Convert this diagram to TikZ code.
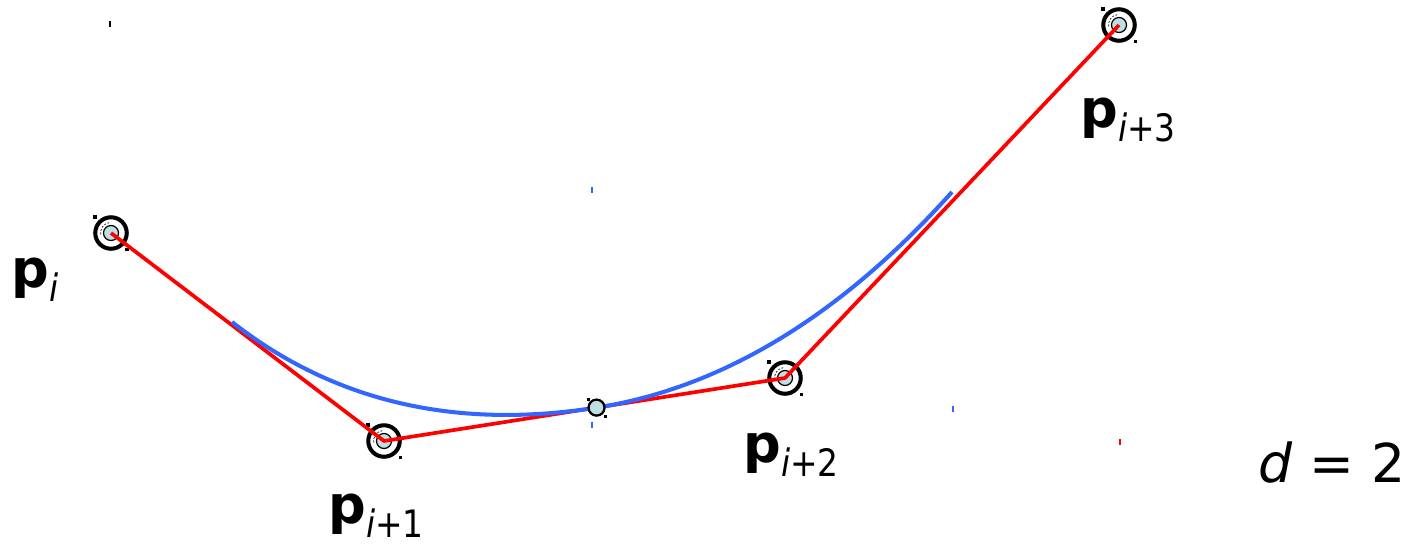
\documentclass[tikz,border=0pt]{standalone}
\usepackage{fontspec}
\usepackage{graphicx}
\setmainfont{DejaVu Sans}
\usetikzlibrary{calc}
\definecolor{ptfill}{RGB}{188,224,228}
\definecolor{curveblue}{RGB}{51,102,255}
\tikzset{
  ring/.style={circle,draw=black,line width=2.3pt,minimum size=0.63cm,inner sep=0pt},
  midpt/.style={circle,draw=black,fill=ptfill,line width=1.3pt,minimum size=0.32cm,inner sep=0pt},
  poly/.style={red,line width=2.1pt,line join=round},
  curve/.style={curveblue,line width=2.3pt},
  lab/.style={anchor=base west,inner sep=0pt,font=\fontsize{30}{36}\selectfont},
  tick/.style={line width=0.6pt}
}
\newcommand\plab[1]{\textbf{p}\raisebox{-8.5pt}{\scalebox{0.87}[1]{\fontsize{21.5}{26}\selectfont #1}}}
\newcommand\cpmark[2]{%
  \node[ring] (#1) at (#2) {};
  \fill[ptfill,draw=black,line width=0.7pt] (#1.center) circle[radius=0.15cm];
  \draw[black,line width=0.4pt,dash pattern=on 1pt off 1pt] (#1.center) ++(100:0.21cm) arc[start angle=100,end angle=190,radius=0.21cm];
  \fill (#1.center) ++(-0.36cm,0.36cm) rectangle ++(0.07cm,-0.07cm);
  \fill (#1.center) ++(0.29cm,-0.29cm) rectangle ++(0.07cm,-0.07cm);
}
\begin{document}
\begin{tikzpicture}[x=0.02cm,y=-0.02cm]
\useasboundingbox (0,0) rectangle (1416,545);
% control points
\cpmark{p0}{111,233}
\cpmark{p1}{384,441}
\cpmark{p2}{785,378}
\cpmark{p3}{1119,25}
% control polygon
\draw[poly] (p0.center) -- (p1.center) -- (p2.center) -- (p3.center);
% curve
\coordinate (A) at (232,322);
\coordinate (M) at ($(p1.center)!0.53!(p2.center)$);
\coordinate (B) at (952,192);
\draw[curve] (A) .. controls ($(A)!2/3!(p1.center)$) and ($(M)!2/3!(p1.center)$) .. (M)
  .. controls ($(M)!2/3!(p2.center)$) and ($(B)!2/3!(p2.center)$) .. (B);
\node[midpt] (m) at (M) {};
\fill (m.center) ++(-0.2cm,0.2cm) rectangle ++(0.06cm,-0.06cm);
\fill (m.center) ++(0.15cm,-0.15cm) rectangle ++(0.06cm,-0.06cm);
% labels
\node[lab] (l0) at (11,287) {\plab{\textit{i}}};
\node[lab] (l1) at (328,523) {\plab{\textit{i}+1}};
\node[lab] (l2) at (743,462) {\plab{\textit{i}+2}};
\node[lab] (l3) at (1080,127) {\plab{\textit{i}+3}};
\node[lab,font=\fontsize{30.5}{36}\selectfont] (deg) at (1258,482) {\textit{d} = 2};
% tiny marks
\draw[tick] (110,21) -- (110,27);
\draw[tick,curveblue] (592,187) -- (592,193);
\draw[tick,curveblue] (592,422) -- (592,428);
\draw[tick,curveblue] (953,406) -- (953,412);
\draw[tick,red] (1120,439) -- (1120,445);
\end{tikzpicture}
\end{document}
